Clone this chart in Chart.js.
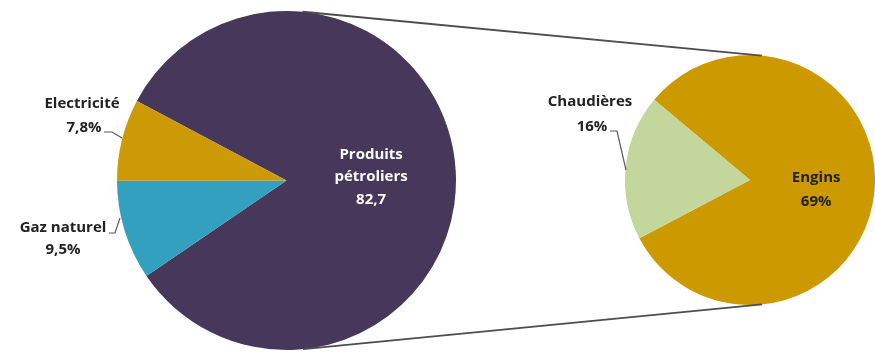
<!DOCTYPE html>
<html>
<head>
<meta charset="utf-8">
<script src="https://cdn.jsdelivr.net/npm/chart.js@4.4.0/dist/chart.umd.min.js"></script>
<style>
    body { margin: 0; background: #fff; }
    #wrap { position: relative; width: 875px; height: 354px; overflow: hidden; }
    #wrap canvas { position: absolute; left: 0; top: 0; }
</style>
</head>
<body>
<div id="wrap">
    <canvas id="leftPie" width="875" height="354"></canvas>
    <canvas id="rightPie" width="875" height="354"></canvas>
</div>
<script>
// --- data ---
const leftLabels = ['Produits pétroliers', 'Gaz naturel', 'Electricité'];
const leftValues = [82.7, 9.5, 7.8];
const leftTexts = [['Produits', 'pétroliers', '82,7'], ['Gaz naturel', '9,5%'], ['Electricité', '7,8%']];

const rightLabels = ['Engins', 'Chaudières'];
const rightValues = [69, 16];
const rightTexts = [['Engins', '69%'], ['Chaudières', '16%']];

const FONT = 'bold 15px "Open Sans", sans-serif';

// draws the slice labels: inside ones at the arc centre, outside ones with a leader line
const sliceLabels = {
    id: 'sliceLabels',
    afterDraw(chart, args, opts) {
        const ctx = chart.ctx;
        const arcs = chart.getDatasetMeta(0).data;
        ctx.save();
        ctx.font = FONT;
        ctx.textAlign = 'center';
        ctx.textBaseline = 'middle';
        (opts.items || []).forEach(item => {
            const lines = opts.texts[item.index];
            if (item.inside) {
                const p = arcs[item.index].tooltipPosition();
                ctx.fillStyle = item.color;
                const top = p.y + (item.dy || 0) - (lines.length - 1) * item.lh / 2;
                lines.forEach((t, i) => ctx.fillText(t, p.x + (item.dx || 0), top + i * item.lh));
            } else {
                ctx.fillStyle = '#222222';
                lines.forEach((t, i) => ctx.fillText(t, item.x[i], item.y[i]));
                ctx.strokeStyle = '#595959';
                ctx.lineWidth = 1.2;
                ctx.beginPath();
                item.leader.forEach((pt, i) => i ? ctx.lineTo(pt[0], pt[1]) : ctx.moveTo(pt[0], pt[1]));
                ctx.stroke();
            }
        });
        ctx.restore();
    }
};

// outer tangents between the two pies
const connectors = {
    id: 'connectors',
    afterDraw(chart) {
        const a = leftChart.getDatasetMeta(0).data[0];
        const b = chart.getDatasetMeta(0).data[0];
        const dx = b.x - a.x, dy = b.y - a.y;
        const d = Math.hypot(dx, dy);
        const base = Math.atan2(dy, dx);
        const phi = Math.acos((a.outerRadius - b.outerRadius) / d);
        const ctx = chart.ctx;
        ctx.save();
        ctx.strokeStyle = '#4d4d4d';
        ctx.lineWidth = 1.8;
        [base + phi, base - phi].forEach(ang => {
            ctx.beginPath();
            ctx.moveTo(a.x + a.outerRadius * Math.cos(ang), a.y + a.outerRadius * Math.sin(ang));
            ctx.lineTo(b.x + b.outerRadius * Math.cos(ang), b.y + b.outerRadius * Math.sin(ang));
            ctx.stroke();
        });
        ctx.restore();
    }
};

const baseOptions = {
    responsive: false,
    animation: false,
    events: [],
    plugins: { legend: { display: false }, tooltip: { enabled: false } }
};

const leftChart = new Chart(document.getElementById('leftPie'), {
    type: 'pie',
    data: {
        labels: leftLabels,
        datasets: [{
            data: leftValues,
            backgroundColor: ['#47375a', '#33a0bf', '#cc9a06'],
            borderWidth: 0
        }]
    },
    options: {
        ...baseOptions,
        rotation: -62,
        layout: { padding: { left: 117, right: 419, top: 11, bottom: 4 } },
        plugins: {
            ...baseOptions.plugins,
            sliceLabels: {
                texts: leftTexts,
                items: [
                    { index: 0, inside: true, color: '#ffffff', lh: 22.5, dx: 0, dy: 1 },
                    { index: 1, x: [63, 63], y: [228, 250], leader: [[109, 233], [115, 233], [120, 218]] },
                    { index: 2, x: [82, 84], y: [104, 128], leader: [[104, 132], [112, 132], [122, 138]] }
                ]
            }
        }
    },
    plugins: [sliceLabels]
});

new Chart(document.getElementById('rightPie'), {
    type: 'pie',
    data: {
        labels: rightLabels,
        datasets: [{
            data: rightValues,
            backgroundColor: ['#cc9a00', '#c3d69b'],
            borderWidth: 0
        }]
    },
    options: {
        ...baseOptions,
        rotation: -50,
        layout: { padding: { left: 625, right: 0, top: 55, bottom: 49 } },
        plugins: {
            ...baseOptions.plugins,
            sliceLabels: {
                texts: rightTexts,
                items: [
                    { index: 0, inside: true, color: '#222222', lh: 24, dx: 4, dy: 3 },
                    { index: 1, x: [590, 592], y: [102, 127], leader: [[610, 131], [617, 131], [626, 170]] }
                ]
            }
        }
    },
    plugins: [sliceLabels, connectors]
});
</script>
</body>
</html>
